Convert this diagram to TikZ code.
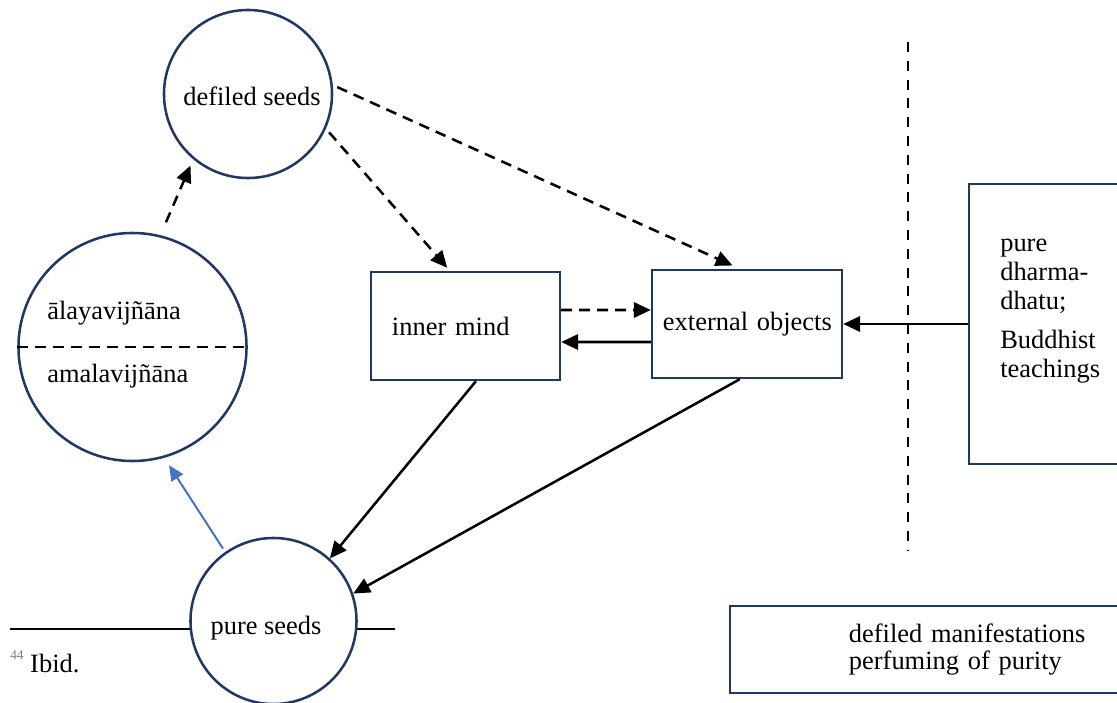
\documentclass[tikz,border=0pt]{standalone}
\usepackage{fontspec}
\setmainfont{Liberation Serif}
\usepackage{tikz}
\usetikzlibrary{positioning,arrows.meta}
\definecolor{shapenavy}{HTML}{203864}
\definecolor{seedblue}{HTML}{4472C4}

\begin{document}
\begin{tikzpicture}[
    x=0.025cm, y=-0.025cm,
    font=\fontsize{18.8}{19.6}\selectfont,
    seedCircle/.style={circle, draw=shapenavy, line width=1.8pt, fill=white, inner sep=0pt, minimum size=4.2cm},
    mindBox/.style={rectangle, draw=shapenavy, line width=1.7pt, fill=white, minimum height=2.7cm, align=left},
    plainText/.style={anchor=west, inner sep=0pt},
    dashArrow/.style={-{Triangle[length=0.42cm, width=0.38cm]}, line width=1.8pt, dash pattern=on 0.27cm off 0.18cm},
    solidArrow/.style={-{Triangle[length=0.42cm, width=0.38cm]}, line width=1.8pt},
    blueArrow/.style={-{Triangle[length=0.38cm, width=0.34cm]}, line width=1.4pt, draw=seedblue}
]
    \useasboundingbox (0,0) rectangle (1117,703);
    \clip (0,0) rectangle (1117,703);

    % seeds and store consciousness
    \node[seedCircle] (defiled) at (248,94) {};
    \node (defiledTxt) at (252,96) {defiled seeds};

    \node[seedCircle, minimum size=5.7cm] (alaya) at (132.5,347) {};
    \draw[line width=1.8pt, dash pattern=on 0.27cm off 0.18cm] (alaya.west) -- (alaya.east);
    \node[plainText] (alayaTxt) at (47,313) {ālayavijñāna};
    \node[plainText] (amalaTxt) at (47,376) {amalavijñāna};

    % footnote rule behind the pure seeds
    \coordinate (ruleL) at (10,629);
    \coordinate (ruleR) at (395,629);
    \draw[line width=1.3pt] (ruleL) -- (ruleR);
    \node[plainText] (ibid) at (10,662) {\textcolor{gray}{\raisebox{0.5em}{\fontsize{9.5}{10}\selectfont 44}}~Ibid.};

    \node[seedCircle, minimum size=4.15cm] (pure) at (273.5,621) {};
    \node (pureTxt) at (266,628) {pure seeds};

    % mind and objects
    \node[mindBox, text width=3.675cm, inner xsep=0.525cm] (inner) at (465.5,326) {inner mind};
    \node[mindBox, text width=4.4cm, inner xsep=0.175cm] (outer) at (747,324) {\hspace*{0.1cm}external objects};

    \node[mindBox, anchor=west, minimum width=4.3cm, minimum height=7cm] (dharma) at (968,324) {};
    \node[plainText, align=left, font=\fontsize{18.8}{20.6}\selectfont] (dharmaTxt) at (1000,311) {pure\\dharma-\\dhatu;\\[0.26cm]Buddhist\\teachings};

    \coordinate (sepTop) at (908,42);
    \coordinate (sepBot) at (908,550);
    \draw[line width=1.6pt, dash pattern=on 0.25cm off 0.22cm] (sepTop) -- (sepBot);

    \node[mindBox, anchor=west, line width=1.3pt, text width=6.5cm, inner xsep=2.975cm, minimum height=2.175cm] (legend) at (729,649.5) {defiled manifestations\\perfuming of purity};

    % connectors
    \draw[dashArrow, shorten <=0.35cm, shorten >=0.17cm] (alaya.76) -- (defiled.230);
    \draw[dashArrow, shorten <=0.12cm, shorten >=0.1cm] (defiled.-24) -- ([xshift=-0.39cm]inner.north);
    \draw[dashArrow, shorten <=0.12cm, shorten >=0.2cm] (defiled.6) -- ([xshift=-0.18cm]outer.north);
    \draw[dashArrow] ([yshift=0.4cm]inner.east) -- ([yshift=0.35cm]outer.west);
    \draw[solidArrow] ([yshift=-0.45cm]outer.west) -- ([yshift=-0.4cm]inner.east);
    \draw[solidArrow] (dharma.west) -- (outer.east);
    \draw[solidArrow] ([xshift=0.26cm]inner.south) -- (pure.48);
    \draw[solidArrow] ([xshift=-0.18cm]outer.south) -- (pure.19);
    \draw[blueArrow, shorten <=0.1cm, shorten >=0.22cm] (pure.125) -- (alaya.-74);
\end{tikzpicture}
\end{document}
